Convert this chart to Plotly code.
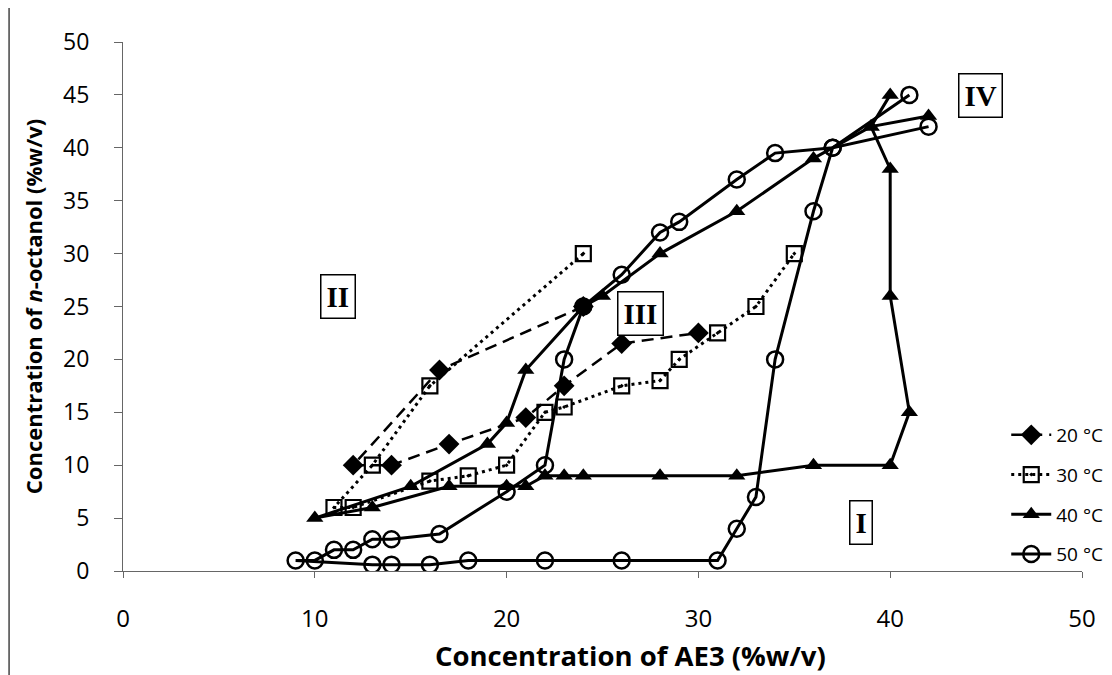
import plotly.graph_objects as go

# ---- data ----
t20_x = [24, 16.5, 12, 14, 17, 21, 23, 26, 30]
t20_y = [25, 19, 10, 10, 12, 14.5, 17.5, 21.5, 22.5]

t30_x = [24, 16, 13, 11, 12, 16, 18, 20, 22, 23, 26, 28, 29, 31, 33, 35]
t30_y = [30, 17.5, 10, 6, 6, 8.5, 9, 10, 15, 15.5, 17.5, 18, 20, 22.5, 25, 30]

t40_x = [40, 39, 36, 32, 28, 25, 24, 21, 20, 19, 15, 10, 13, 17, 20, 21, 22, 23, 24, 28, 32, 36, 40, 41, 40, 40, 39, 42]
t40_y = [45, 42, 39, 34, 30, 26, 25, 19, 14, 12, 8, 5, 6, 8, 8, 8, 9, 9, 9, 9, 9, 10, 10, 15, 26, 38, 42, 43]

t50_x = [41, 37, 34, 32, 29, 28, 26, 24, 23, 22, 20, 16.5, 14, 13, 12, 11, 10, 9,
         13, 14, 16, 18, 22, 26, 31, 32, 33, 34, 36, 37, 42]
t50_y = [45, 40, 39.5, 37, 33, 32, 28, 25, 20, 10, 7.5, 3.5, 3, 3, 2, 2, 1, 1,
         0.6, 0.6, 0.6, 1, 1, 1, 1, 4, 7, 20, 34, 40, 42]

series_names = ["20 °C", "30 °C", "40 °C", "50 °C"]

region_labels = ["I", "II", "III", "IV"]
region_x = [38.5, 11.2, 27.0, 44.7]
region_y = [4.6, 25.9, 24.3, 44.9]

x_ticks = [0, 10, 20, 30, 40, 50]
y_ticks = [0, 5, 10, 15, 20, 25, 30, 35, 40, 45, 50]

x_title = "Concentration of AE3 (%w/v)"
y_title = "Concentration of <i>n</i>-octanol (%w/v)"

fig = go.Figure()

fig.add_trace(go.Scatter(
    x=t20_x, y=t20_y, mode="lines+markers", name=series_names[0], legendgroup="a",
    line=dict(color="black", width=2.5, dash="12px,7px"),
    marker=dict(symbol="diamond", size=16, color="black")))
fig.add_trace(go.Scatter(
    x=t30_x, y=t30_y, mode="lines+markers", name=series_names[1], legendgroup="b",
    line=dict(color="black", width=3, dash="3px,4px"),
    marker=dict(symbol="square-open-dot", size=15, color="black", line=dict(width=2.2, color="black"))))
fig.add_trace(go.Scatter(
    x=t40_x, y=t40_y, mode="lines+markers", name=series_names[2], legendgroup="c",
    line=dict(color="black", width=3),
    marker=dict(symbol="triangle-up", size=15, color="black")))
fig.add_trace(go.Scatter(
    x=t50_x, y=t50_y, mode="lines+markers", name=series_names[3], legendgroup="d",
    line=dict(color="black", width=3),
    marker=dict(symbol="circle-open", size=16, color="black", line=dict(width=2.5, color="black"))))

for t, x, y in zip(region_labels, region_x, region_y):
    fig.add_annotation(x=x, y=y, xref="x", yref="y", text=t, showarrow=False,
                       font=dict(family="Liberation Serif", size=29, color="black", weight="bold"),
                       bordercolor="black", borderwidth=1.5, borderpad=5, bgcolor="white")

# x-axis title (offset to the right as in the original)
fig.add_annotation(x=0.529, y=-0.159, xref="paper", yref="paper", text=x_title, showarrow=False,
                   xanchor="center", yanchor="middle",
                   font=dict(family="Open Sans", size=27.5, color="black", weight="bold"))

xtick_font = dict(family="Open Sans", size=24, color="black")
ytick_font = dict(family="Open Sans", size=23, color="black")

fig.update_xaxes(range=[0, 50], tickvals=x_ticks, showgrid=False, zeroline=False,
                 showline=True, linecolor="#666", linewidth=1, automargin=False,
                 ticks="outside", ticklen=6, tickcolor="#666",
                 tickfont=xtick_font, ticklabelstandoff=20)
fig.update_yaxes(range=[0, 50], tickvals=y_ticks, showgrid=False, zeroline=False,
                 showline=True, linecolor="#666", linewidth=1, automargin=False,
                 ticks="outside", ticklen=8, tickcolor="#666",
                 tickfont=ytick_font, ticklabelstandoff=20,
                 title=dict(text=y_title,
                            font=dict(family="Open Sans", size=22, color="black", weight="bold"),
                            standoff=14))

fig.update_layout(
    width=1112, height=675,
    margin=dict(l=115, r=35, t=34, b=112),
    paper_bgcolor="white", plot_bgcolor="white",
    showlegend=True,
    legend=dict(x=0.921, y=0.293, xanchor="left", yanchor="top",
                font=dict(family="Open Sans", size=19, color="black"),
                bgcolor="rgba(0,0,0,0)", tracegroupgap=12, itemwidth=40),
    shapes=[
        dict(type="line", xref="paper", yref="paper", x0=-0.1188, x1=-0.1188, y0=-0.25, y1=1.07,
             line=dict(color="#444", width=1.5)),
    ],
)

fig.write_html("out.html")
